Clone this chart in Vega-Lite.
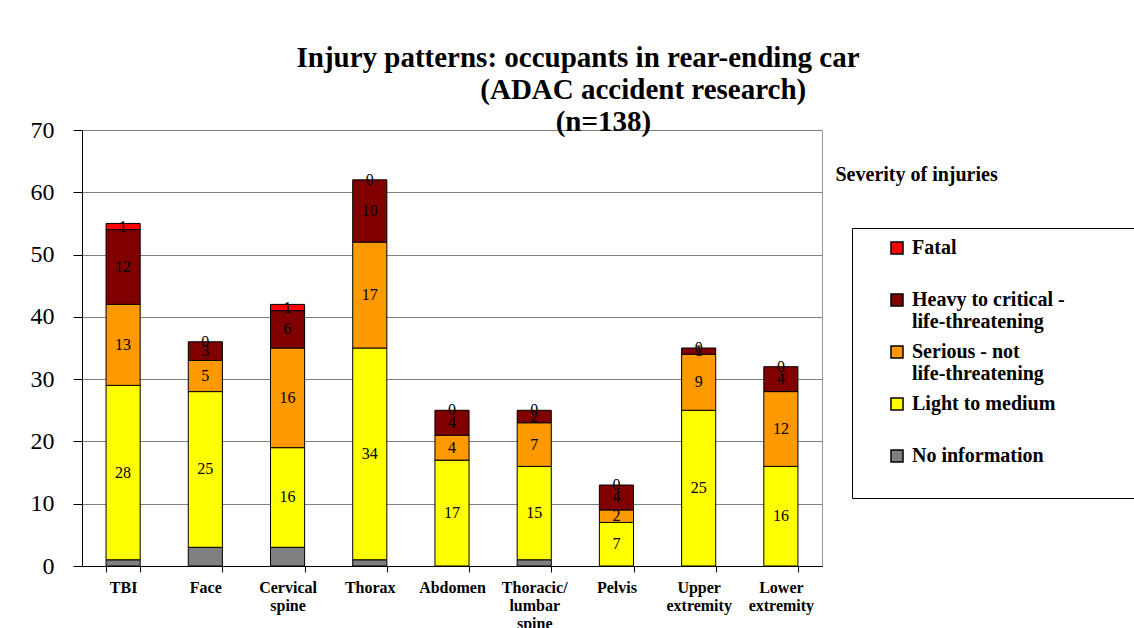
{
  "$schema": "https://vega.github.io/schema/vega-lite/v6.json",
  "autosize": "none",
  "padding": {"left": 82, "top": 130, "right": 312, "bottom": 62},
  "width": 740,
  "height": 436,
  "background": "white",
  "config": {
    "font": "Liberation Serif",
    "view": {"stroke": "#999999", "strokeWidth": 1}
  },
  "title": {
    "text": [
      "Injury patterns: occupants in rear-ending car",
      "\u200b\u00a0\u00a0\u00a0\u00a0\u00a0\u00a0\u00a0\u00a0\u00a0\u00a0\u00a0\u00a0\u00a0\u00a0\u00a0\u00a0\u00a0\u00a0(ADAC accident research)",
      "\u200b\u00a0\u00a0\u00a0\u00a0\u00a0\u00a0\u00a0(n=138)"
    ],
    "anchor": "middle",
    "frame": "group",
    "dx": 126,
    "dy": 19,
    "offset": 0,
    "font": "Liberation Serif",
    "fontSize": 29,
    "fontWeight": "bold",
    "color": "black",
    "lineHeight": 32
  },
  "data": {
    "values": [
      {"part": "TBI", "sev": "No information", "k": 0, "count": 1},
      {"part": "TBI", "sev": "Light to medium", "k": 1, "count": 28},
      {"part": "TBI", "sev": "Serious - not life-threatening", "k": 2, "count": 13},
      {"part": "TBI", "sev": "Heavy to critical - life-threatening", "k": 3, "count": 12},
      {"part": "TBI", "sev": "Fatal", "k": 4, "count": 1},
      {"part": "Face", "sev": "No information", "k": 0, "count": 3},
      {"part": "Face", "sev": "Light to medium", "k": 1, "count": 25},
      {"part": "Face", "sev": "Serious - not life-threatening", "k": 2, "count": 5},
      {"part": "Face", "sev": "Heavy to critical - life-threatening", "k": 3, "count": 3},
      {"part": "Face", "sev": "Fatal", "k": 4, "count": 0},
      {"part": "Cervical spine", "sev": "No information", "k": 0, "count": 3},
      {"part": "Cervical spine", "sev": "Light to medium", "k": 1, "count": 16},
      {"part": "Cervical spine", "sev": "Serious - not life-threatening", "k": 2, "count": 16},
      {"part": "Cervical spine", "sev": "Heavy to critical - life-threatening", "k": 3, "count": 6},
      {"part": "Cervical spine", "sev": "Fatal", "k": 4, "count": 1},
      {"part": "Thorax", "sev": "No information", "k": 0, "count": 1},
      {"part": "Thorax", "sev": "Light to medium", "k": 1, "count": 34},
      {"part": "Thorax", "sev": "Serious - not life-threatening", "k": 2, "count": 17},
      {"part": "Thorax", "sev": "Heavy to critical - life-threatening", "k": 3, "count": 10},
      {"part": "Thorax", "sev": "Fatal", "k": 4, "count": 0},
      {"part": "Abdomen", "sev": "No information", "k": 0, "count": 0},
      {"part": "Abdomen", "sev": "Light to medium", "k": 1, "count": 17},
      {"part": "Abdomen", "sev": "Serious - not life-threatening", "k": 2, "count": 4},
      {"part": "Abdomen", "sev": "Heavy to critical - life-threatening", "k": 3, "count": 4},
      {"part": "Abdomen", "sev": "Fatal", "k": 4, "count": 0},
      {"part": "Thoracic/ lumbar spine", "sev": "No information", "k": 0, "count": 1},
      {"part": "Thoracic/ lumbar spine", "sev": "Light to medium", "k": 1, "count": 15},
      {"part": "Thoracic/ lumbar spine", "sev": "Serious - not life-threatening", "k": 2, "count": 7},
      {"part": "Thoracic/ lumbar spine", "sev": "Heavy to critical - life-threatening", "k": 3, "count": 2},
      {"part": "Thoracic/ lumbar spine", "sev": "Fatal", "k": 4, "count": 0},
      {"part": "Pelvis", "sev": "No information", "k": 0, "count": 0},
      {"part": "Pelvis", "sev": "Light to medium", "k": 1, "count": 7},
      {"part": "Pelvis", "sev": "Serious - not life-threatening", "k": 2, "count": 2},
      {"part": "Pelvis", "sev": "Heavy to critical - life-threatening", "k": 3, "count": 4},
      {"part": "Pelvis", "sev": "Fatal", "k": 4, "count": 0},
      {"part": "Upper extremity", "sev": "No information", "k": 0, "count": 0},
      {"part": "Upper extremity", "sev": "Light to medium", "k": 1, "count": 25},
      {"part": "Upper extremity", "sev": "Serious - not life-threatening", "k": 2, "count": 9},
      {"part": "Upper extremity", "sev": "Heavy to critical - life-threatening", "k": 3, "count": 1},
      {"part": "Upper extremity", "sev": "Fatal", "k": 4, "count": 0},
      {"part": "Lower extremity", "sev": "No information", "k": 0, "count": 0},
      {"part": "Lower extremity", "sev": "Light to medium", "k": 1, "count": 16},
      {"part": "Lower extremity", "sev": "Serious - not life-threatening", "k": 2, "count": 12},
      {"part": "Lower extremity", "sev": "Heavy to critical - life-threatening", "k": 3, "count": 4},
      {"part": "Lower extremity", "sev": "Fatal", "k": 4, "count": 0}
    ]
  },
  "transform": [
    {"stack": "count", "groupby": ["part"], "sort": [{"field": "k", "order": "ascending"}], "as": ["y0", "y1"]},
    {"calculate": "(datum.y0 + datum.y1) / 2", "as": "mid"}
  ],
  "encoding": {
    "x": {
      "field": "part",
      "type": "nominal",
      "sort": null,
      "scale": {"paddingInner": 0.585, "paddingOuter": 0.2925},
      "axis": {
        "title": null,
        "labelAngle": 0,
        "labelExpr": "split(datum.label, ' ')",
        "labelFont": "Liberation Serif",
        "labelFontSize": 16,
        "labelFontWeight": "bold",
        "labelColor": "black",
        "labelLineHeight": 18,
        "labelPadding": 7,
        "tickBand": "extent",
        "tickSize": 6,
        "tickColor": "black",
        "domainColor": "black",
        "labelLimit": 200
      }
    }
  },
  "layer": [
    {
      "transform": [{"filter": "datum.count > 0"}],
      "mark": {"type": "bar", "stroke": "black", "strokeWidth": 1},
      "encoding": {
        "y": {
          "field": "y1",
          "type": "quantitative",
          "scale": {"domain": [0, 70], "nice": false},
          "axis": {
            "values": [0, 10, 20, 30, 40, 50, 60, 70],
            "grid": true,
            "gridColor": "#808080",
            "gridWidth": 1,
            "domainColor": "black",
            "tickColor": "black",
            "tickSize": 9,
            "labelPadding": 19,
            "labelFont": "Liberation Serif",
            "labelFontSize": 24,
            "labelColor": "black",
            "title": "Severity of injuries",
            "titleAngle": 0,
            "titleAlign": "left",
            "titleBaseline": "alphabetic",
            "titleX": 753,
            "titleY": 50,
            "titleFont": "Liberation Serif",
            "titleFontSize": 20,
            "titleFontWeight": "bold",
            "titleColor": "black"
          }
        },
        "y2": {"field": "y0"},
        "color": {
          "field": "sev",
          "type": "nominal",
          "scale": {
            "domain": ["Fatal", "Heavy to critical - life-threatening", "Serious - not life-threatening", "Light to medium", "No information"],
            "range": ["#FF0000", "#800000", "#FF9900", "#FFFF00", "#808080"]
          },
          "legend": {
            "title": null,
            "orient": "none",
            "legendX": 770,
            "legendY": 98,
            "strokeColor": "black",
            "fillColor": "white",
            "padding": 10,
            "symbolType": "square",
            "symbolSize": 144,
            "symbolOffset": 25,
            "labelOffset": 5,
            "labelFont": "Liberation Serif",
            "labelFontSize": 20,
            "labelFontWeight": "bold",
            "labelColor": "black",
            "labelLineHeight": 22,
            "labelBaseline": "middle",
            "labelLimit": 400,
            "gridAlign": "all",
            "rowPadding": 10,
            "labelExpr": "datum.label == 'Heavy to critical - life-threatening' ? ['Heavy to critical -\u00a0\u00a0\u00a0\u00a0\u00a0\u00a0\u00a0\u00a0\u00a0\u00a0\u00a0\u00a0\u00a0\u00a0\u00a0\u200b', 'life-threatening'] : datum.label == 'Serious - not life-threatening' ? ['Serious - not', 'life-threatening'] : datum.label == 'No information' ? ['No information', '\u200b'] : datum.label",
            "encode": {
              "symbols": {"update": {"stroke": {"value": "black"}, "strokeWidth": {"value": 1}, "opacity": {"value": 1}}}
            }
          }
        },
        "order": {"field": "k", "type": "quantitative"}
      }
    },
    {
      "transform": [{"filter": "datum.k > 0"}],
      "mark": {"type": "text", "font": "Liberation Serif", "fontSize": 16, "color": "black", "baseline": "middle"},
      "encoding": {
        "y": {"field": "mid", "type": "quantitative"},
        "text": {"field": "count", "type": "quantitative"}
      }
    }
  ]
}
